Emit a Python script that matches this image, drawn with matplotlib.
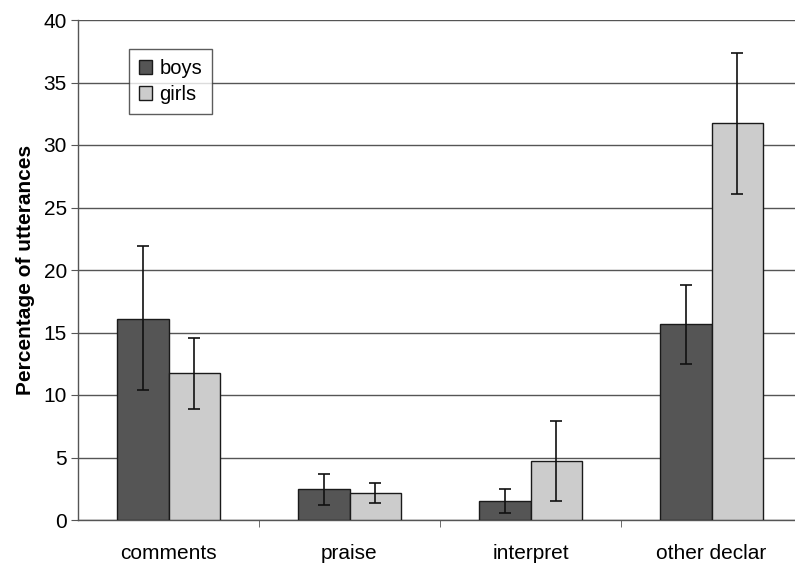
import numpy as np
import matplotlib.pyplot as plt

plt.rcParams['font.family'] = ['Liberation Sans', 'DejaVu Sans']

# data
categories = ["comments", "praise", "interpret", "other declar"]
boys = [16.1, 2.5, 1.55, 15.65]
girls = [11.75, 2.15, 4.7, 31.75]
boys_err_lo = [10.4, 1.2, 0.6, 12.5]
boys_err_hi = [21.9, 3.7, 2.5, 18.8]
girls_err_lo = [8.9, 1.4, 1.5, 26.1]
girls_err_hi = [14.6, 2.95, 7.95, 37.4]

# figure setup
fig = plt.figure(figsize=(7.95, 5.64), dpi=100)
ax = fig.add_axes([78/795, 1-520/564, (802-78)/795, 500/564])

x = np.arange(len(categories))
w = 0.285
boys = np.array(boys); girls = np.array(girls)
berr = [boys - np.array(boys_err_lo), np.array(boys_err_hi) - boys]
gerr = [girls - np.array(girls_err_lo), np.array(girls_err_hi) - girls]

ax.bar(x - w/2, boys, w, color='#555555', edgecolor='#1a1a1a', linewidth=1.0,
       label='boys', zorder=3)
ax.bar(x + w/2, girls, w, color='#cccccc', edgecolor='#1a1a1a', linewidth=1.0,
       label='girls', zorder=3)
ax.errorbar(x - w/2, boys, yerr=berr, fmt='none', ecolor='#111111',
            elinewidth=1.2, capsize=4, capthick=1.2, zorder=4)
ax.errorbar(x + w/2, girls, yerr=gerr, fmt='none', ecolor='#111111',
            elinewidth=1.2, capsize=4, capthick=1.2, zorder=4)

# axes styling
ax.set_xlim(-0.5, 3.5)
ax.set_ylim(0, 40)
ax.set_yticks(range(0, 41, 5))
ax.yaxis.grid(True, color='#555555', linewidth=1.0, zorder=0)
ax.set_axisbelow(True)
ax.set_xticks(x)
ax.set_xticklabels(categories, fontsize=15)
ax.set_xticks([0.5, 1.5, 2.5], minor=True)
ax.tick_params(axis='x', which='major', length=0, pad=17)
ax.tick_params(axis='x', which='minor', length=5, color='#555555', direction='out')
ax.tick_params(axis='y', length=5, color='#555555', labelsize=15, pad=3)
for s in ['top', 'right']:
    ax.spines[s].set_visible(False)
for s in ['left', 'bottom']:
    ax.spines[s].set_color('#555555')
    ax.spines[s].set_linewidth(1.0)
ax.set_ylabel("Percentage of utterances", fontsize=15, fontweight='bold', labelpad=6)

leg = ax.legend(loc='upper left', bbox_to_anchor=((129-78)/724, (520-49)/500),
                borderaxespad=0, fontsize=14.5, frameon=True, fancybox=False,
                edgecolor='#333333', handlelength=0.65, handleheight=0.65,
                handletextpad=0.35, borderpad=0.5, labelspacing=0.35)
leg.get_frame().set_linewidth(1.0)

fig.savefig("out.png", dpi=100)
plt.close()
